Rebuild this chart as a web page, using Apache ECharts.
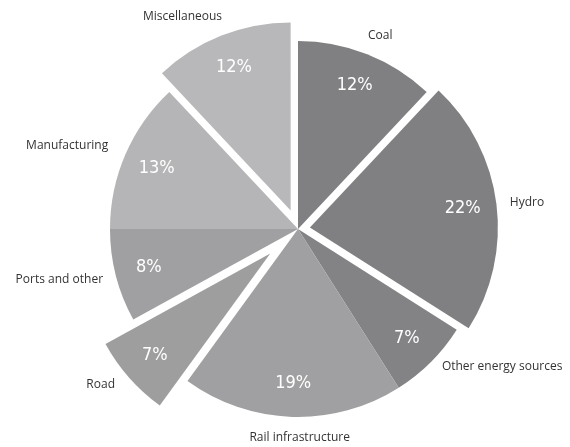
<!DOCTYPE html>
<html>
<head>
<meta charset="utf-8">
<script src="https://cdn.jsdelivr.net/npm/echarts@6/dist/echarts.min.js"></script>
<style>
html,body{margin:0;padding:0;background:#fff;}
#chart{width:570px;height:447px;}
</style>
</head>
<body>
<div id="chart"></div>
<script>
// ---- data ----
const categories = ['Coal', 'Hydro', 'Other energy sources', 'Rail infrastructure', 'Road', 'Ports and other', 'Manufacturing', 'Miscellaneous'];
const shares = [12, 22, 7, 19, 7, 8, 13, 12];

// ---- styles (not data) ----
const sliceColors = ['#808083', '#808083', '#838386', '#a0a0a2', '#9e9e9f', '#a0a0a2', '#b5b5b7', '#b8b8ba'];
const explode = [0, 12, 0, 0, 37, 0, 0, 20];
const lineLen = [19.5, 8, 7, 21, 11, 17, 21, 20];
const lineLen2 = [-6.4, 5.5, 6, -58.5, 6, -3.6, -2, -8];
const center = [298, 229];
const R = 188;

const groups = [0, 12, 20, 37];
const series = [];
groups.forEach(function (g) {
  const inG = function (i) { return explode[i] === g; };
  series.push({
    type: 'pie',
    center: center,
    radius: [0, R],
    startAngle: 90,
    clockwise: true,
    avoidLabelOverlap: false,
    selectedMode: g > 0 ? 'multiple' : false,
    selectedOffset: g,
    silent: true,
    animation: false,
    emphasis: { disabled: true },
    label: {
      position: 'outside',
      distanceToLabelLine: 0,
      color: '#333333',
      fontFamily: 'Open Sans',
      fontSize: 12,
      formatter: '{b}'
    },
    labelLine: { show: false },
    data: categories.map(function (c, i) {
      return {
        name: c,
        value: shares[i],
        selected: g > 0 && inG(i),
        itemStyle: { color: inG(i) ? sliceColors[i] : 'transparent', borderWidth: 0 },
        label: { show: inG(i) },
        labelLine: { show: false, length: lineLen[i], length2: lineLen2[i] }
      };
    })
  });
  series.push({
    type: 'pie',
    center: center,
    radius: [114, R],
    startAngle: 90,
    clockwise: true,
    avoidLabelOverlap: false,
    selectedMode: g > 0 ? 'multiple' : false,
    selectedOffset: g,
    silent: true,
    animation: false,
    emphasis: { disabled: true },
    label: {
      position: 'inside',
      color: '#ffffff',
      fontFamily: '"DejaVu Sans Condensed", "Liberation Sans Narrow", "Roboto Condensed", sans-serif',
      fontSize: 18,
      formatter: '{c}%'
    },
    labelLine: { show: false },
    data: categories.map(function (c, i) {
      return {
        name: c,
        value: shares[i],
        selected: g > 0 && inG(i),
        itemStyle: { color: 'transparent', borderWidth: 0 },
        label: { show: inG(i) }
      };
    })
  });
});

const chart = echarts.init(document.getElementById('chart'), null, { renderer: 'canvas' });
chart.setOption({
  backgroundColor: '#ffffff',
  animation: false,
  series: series
});
</script>
</body>
</html>
